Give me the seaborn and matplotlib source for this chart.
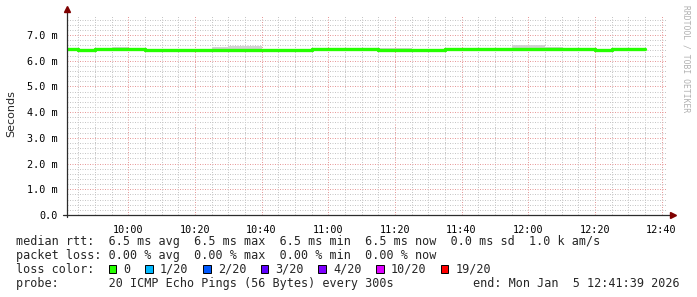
import matplotlib
matplotlib.use("Agg")
import matplotlib.pyplot as plt
import matplotlib.dates as mdates
from matplotlib.ticker import MultipleLocator, FuncFormatter
from matplotlib.patches import Rectangle
import seaborn as sns
import pandas as pd

# 5 minute median rtt (ms), one value per rrd step starting 09:40
median_ms = [6.45, 6.42, 6.46, 6.46, 6.46, 6.43, 6.43, 6.43, 6.43, 6.43,
             6.43, 6.43, 6.43, 6.43, 6.43, 6.47, 6.47, 6.47, 6.47, 6.43,
             6.43, 6.43, 6.43, 6.45, 6.45, 6.45, 6.45, 6.45, 6.45, 6.45,
             6.44, 6.44, 6.42, 6.45, 6.45]
# smoke (spread of the 20 pings), top and bottom
smoke_top = [6.47, 6.44, 6.48, 6.52, 6.48, 6.45, 6.45, 6.45, 6.45, 6.55,
             6.58, 6.58, 6.45, 6.45, 6.45, 6.49, 6.49, 6.49, 6.49, 6.49,
             6.49, 6.45, 6.45, 6.47, 6.47, 6.47, 6.47, 6.62, 6.60, 6.52,
             6.46, 6.46, 6.44, 6.47, 6.47]
smoke_bot = [6.43, 6.40, 6.44, 6.44, 6.44, 6.41, 6.41, 6.41, 6.36, 6.41,
             6.41, 6.41, 6.41, 6.41, 6.41, 6.45, 6.45, 6.45, 6.45, 6.41,
             6.41, 6.41, 6.41, 6.43, 6.43, 6.43, 6.43, 6.43, 6.43, 6.43,
             6.42, 6.42, 6.40, 6.37, 6.43]
start_slot = "2026-01-05 09:40:00"
view_start = "2026-01-05 09:41:39"
view_end = "2026-01-05 12:41:39"

loss_labels = ["0", "1/20", "2/20", "3/20", "4/20", "10/20", "19/20"]
loss_colors = ["#26ff00", "#00b8ff", "#0059ff", "#5e00ff", "#7e00ff", "#dd00ff", "#ff0000"]

legend_rows = [
    "median rtt:  6.5 ms avg  6.5 ms max  6.5 ms min  6.5 ms now  0.0 ms sd  1.0 k am/s",
    "packet loss: 0.00 % avg  0.00 % max  0.00 % min  0.00 % now",
    "loss color:",
    "probe:       20 ICMP Echo Pings (56 Bytes) every 300s",
]
end_text = "end: Mon Jan  5 12:41:39 2026"

times = pd.date_range(start_slot, periods=len(median_ms) + 1, freq="5min")
df = pd.DataFrame({"time": times,
                   "median": median_ms + median_ms[-1:],
                   "top": smoke_top + smoke_top[-1:],
                   "bot": smoke_bot + smoke_bot[-1:]})

sns.set_style("white")
plt.rcParams["font.family"] = ["DejaVu Sans Mono"]

W, H = 697, 297
fig = plt.figure(figsize=(W / 100, H / 100), dpi=100)
fig.patch.set_facecolor("white")
ax = fig.add_axes([67 / W, 82 / H, 600 / W, 200 / H])

ax.fill_between(df["time"], df["bot"], df["top"], step="post",
                color="#d2d2d2", linewidth=0, zorder=2)
sns.lineplot(data=df, x="time", y="median", drawstyle="steps-post",
             color="#26ff00", linewidth=2.4, ax=ax, zorder=3)

ax.set_xlim(pd.Timestamp(view_start), pd.Timestamp(view_end))
ax.set_ylim(0, 7.7778)
ax.set_xlabel("")
ax.set_ylabel("")

ax.xaxis.set_major_locator(mdates.MinuteLocator(byminute=[0, 20, 40]))
ax.xaxis.set_minor_locator(mdates.MinuteLocator(byminute=range(0, 60, 5)))
ax.xaxis.set_major_formatter(mdates.DateFormatter("%H:%M"))
ax.yaxis.set_major_locator(MultipleLocator(1.0))
ax.yaxis.set_minor_locator(MultipleLocator(0.2))
ax.yaxis.set_major_formatter(FuncFormatter(lambda v, p: "0.0" if abs(v) < 1e-9 else f"{v:.1f} m"))

dot = (0, (1, 1.5))
ax.grid(which="minor", color="#c6c6c6", linestyle=dot, linewidth=0.72, zorder=1)
ax.grid(which="major", color="#e79a9a", linestyle=dot, linewidth=0.72, zorder=1)
ax.set_axisbelow(True)

ax.tick_params(which="both", labelsize=7.3, colors="#000000", length=2, width=0.7, pad=5)
ax.tick_params(which="major", color="#e8a0a0")
ax.tick_params(which="minor", color="#c8c8c8")
for s in ax.spines.values():
    s.set_visible(False)

# axes with arrows like rrdtool
axis_col = "#2c2c2c"
ax.plot([0, 0], [-0.01, 1.03], color=axis_col, lw=0.9, transform=ax.transAxes, clip_on=False, zorder=5)
ax.plot([-0.007, 1.0083], [0, 0], color=axis_col, lw=0.9, transform=ax.transAxes, clip_on=False, zorder=5)
ax.plot([0], [1.03], marker="^", ms=4, color="#7f0000", transform=ax.transAxes, clip_on=False, zorder=6)
ax.plot([1.0095], [0], marker=">", ms=4, color="#7f0000", transform=ax.transAxes, clip_on=False, zorder=6)

fig.text(11 / W, 1 - 114 / H, "Seconds", rotation=90, ha="center", va="center",
         family="DejaVu Sans", fontsize=8)
fig.text(686 / W, 1 - 5 / H, "RRDTOOL / TOBI OETIKER", rotation=270, ha="center", va="top",
         fontsize=5.8, color="#b0b0b0")

row_y = [241.3, 255.3, 269.3, 283.7]
for txt, y in zip(legend_rows, row_y):
    fig.text(16 / W, 1 - y / H, txt, ha="left", va="center", fontsize=8.5)
fig.text(680 / W, 1 - row_y[3] / H, end_text, ha="right", va="center", fontsize=8.5)

# loss colour boxes
char_w = 7.03
x = 108.7
for lab, col in zip(loss_labels, loss_colors):
    fig.patches.append(Rectangle((x / W, 1 - (row_y[2] + 4) / H), 7.5 / W, 8 / H,
                                 transform=fig.transFigure, facecolor=col,
                                 edgecolor="black", linewidth=0.7))
    tx = x + 14.6
    fig.text(tx / W, 1 - row_y[2] / H, lab, ha="left", va="center", fontsize=8.5)
    x = tx + len(lab) * char_w + 15

fig.savefig("out.png", dpi=100)
